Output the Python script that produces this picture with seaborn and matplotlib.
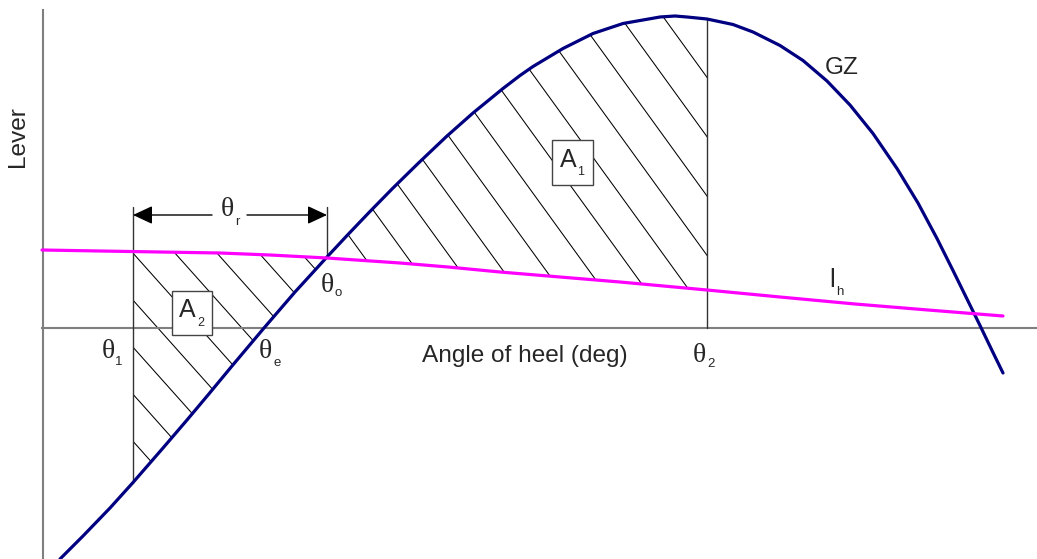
import numpy as np
import pandas as pd
import matplotlib
matplotlib.use("Agg")
import matplotlib.pyplot as plt
from matplotlib.patches import Polygon, Rectangle
import seaborn as sns

# ---------------- data (schematic units: x = heel angle, y = lever) ----------------
# GZ curve (righting lever)
gz_angle = [60, 83, 110, 133, 163, 187, 208, 232, 264, 295, 327, 348, 369, 393,
            418, 447, 473, 503, 520, 533, 563, 593, 623, 660, 675, 687, 707, 733, 753,
            780, 803, 827, 850, 873, 897, 918, 937, 953, 967, 980, 993, 1003]
gz_lever = [-231, -208, -180, -154.5, -120, -92, -67, -38, 0, 36, 71, 93.5, 115.5, 140,
            164.5, 192, 215, 239.5, 252.5, 261.5, 279.5, 294.5, 304.5, 311, 312, 311, 309,
            303.5, 296, 282.5, 267.5, 247, 223, 194.5, 159.5, 125, 89.5, 57.5, 29, 2.5,
            -24.5, -45]
# heeling lever l_h
lh_angle = [42, 100, 160, 220, 270, 327, 400, 448, 500, 560, 620, 707, 780, 855, 928, 1003]
lh_lever = [78, 77, 76, 75, 73, 70, 65, 61, 56, 51, 46, 38, 31, 24, 18, 12]

theta_1, theta_o, theta_2 = 133, 327, 707

# ---------------- figure ----------------
sns.set_style("white")
plt.rcParams["font.family"] = ["Liberation Sans", "DejaVu Sans"]

fig = plt.figure(figsize=(10.37, 5.59), dpi=100)
ax = fig.add_axes([0, 0, 1, 1])
ax.set_xlim(0, 1037)
ax.set_ylim(-231, 328)

NAVY = "#000080"
MAG = "#ff00ff"
GREY = "#7f7f7f"

# axes as spines
for s in ["top", "right"]:
    ax.spines[s].set_visible(False)
ax.spines["left"].set_position(("data", 43))
ax.spines["bottom"].set_position(("data", 0))
ax.spines["left"].set_bounds(-231, 318)
ax.spines["bottom"].set_bounds(42, 1037)
for s in ["left", "bottom"]:
    ax.spines[s].set_color(GREY)
    ax.spines[s].set_linewidth(1.5)
ax.set_xticks([])
ax.set_yticks([])

gz_a = np.array(gz_angle, float)
gz_l = np.array(gz_lever, float)
lh_a = np.array(lh_angle, float)
lh_l = np.array(lh_lever, float)

def gz_at(x):
    return np.interp(x, gz_a, gz_l)

def lh_at(x):
    return np.interp(x, lh_a, lh_l)

# ---------------- hatched regions ----------------
def region(x0, x1, top, bottom):
    xs = np.linspace(x0, x1, 200)
    pts = np.vstack([np.column_stack([xs, top(xs)]),
                     np.column_stack([xs[::-1], bottom(xs[::-1])])])
    p = Polygon(pts, closed=True, facecolor="none", edgecolor="none")
    ax.add_patch(p)
    return p

clipA1 = region(theta_o, theta_2, gz_at, lh_at)
clipA2 = region(theta_1, theta_o, lh_at, gz_at)

def hatch(clip, x_refs, y_ref, slope):
    xs = np.array([-400, 1400], float)
    for x0 in x_refs:
        ys = y_ref - slope * (xs - x0)
        ln, = ax.plot(xs, ys, color="black", lw=0.75, zorder=2)
        ln.set_clip_path(clip)

hatch(clipA1, [370 + 43 * k for k in range(-1, 13)], 63, 1.38)
hatch(clipA2, [300 - 42 * k for k in range(0, 10)], 76, 1.12)

# ---------------- curves ----------------
sns.lineplot(x=gz_a, y=gz_l, ax=ax, color=NAVY, linewidth=2.3, sort=False,
             estimator=None, zorder=4, solid_joinstyle="round")
sns.lineplot(x=lh_a, y=lh_l, ax=ax, color=MAG, linewidth=2.3, sort=False,
             estimator=None, zorder=4, solid_joinstyle="round")

# ---------------- vertical guide lines ----------------
arrow_y = 328 - 215
top_ext = 328 - 207
ax.plot([theta_1, theta_1], [top_ext, gz_at(theta_1)], color="#333333", lw=1.0, zorder=3)
ax.plot([theta_o, theta_o], [top_ext, lh_at(theta_o)], color="#333333", lw=1.0, zorder=3)
ax.plot([theta_2, theta_2], [0, gz_at(theta_2)], color="#333333", lw=1.0, zorder=3)

# theta_r arrows
astyle = dict(arrowstyle="-|>,head_length=0.6,head_width=0.28", mutation_scale=20,
              color="black", lw=1.0, shrinkA=0, shrinkB=0)
ax.annotate("", xy=(theta_1, arrow_y), xytext=(212, arrow_y), arrowprops=astyle)
ax.annotate("", xy=(theta_o, arrow_y), xytext=(247, arrow_y), arrowprops=astyle)

# ---------------- labels ----------------
def P(y):
    return 328 - y

TH = ["Liberation Serif", "DejaVu Serif"]

def theta_label(xc, yc, sub, xs, ys):
    ax.text(xc, P(yc), "θ", family=TH, fontsize=20, ha="center", va="center", zorder=6)
    ax.text(xs, P(ys), sub, fontsize=9.5, ha="center", va="center", zorder=6)

theta_label(108, 351, "1", 119, 362)
theta_label(265, 351, "e", 277, 363)
theta_label(327, 286, "o", 338, 293)
theta_label(699, 355, "2", 711, 364)
theta_label(227, 210, "r", 237, 222)

ax.text(525, P(356), "Angle of heel (deg)", fontsize=17.6, ha="center", va="center", zorder=6)
ax.text(18, P(137), "Lever", fontsize=17.6, ha="center", va="center", rotation=90, zorder=6)
ax.text(842, P(68), "GZ", fontsize=17.6, ha="center", va="center", zorder=6)
ax.text(832, P(280), "l", fontsize=18.5, ha="center", va="center", zorder=6)
ax.text(840, P(292), "h", fontsize=9.5, ha="center", va="center", zorder=6)

def boxed(x0, y0, x1, y1, ac, sc):
    ax.add_patch(Rectangle((x0, P(y1)), x1 - x0, y1 - y0, facecolor="white",
                           edgecolor="#444444", lw=1.0, zorder=5))
    ax.text(ac[0], P(ac[1]), "A", fontsize=18, ha="center", va="center", zorder=6)
    ax.text(sc[0], P(sc[1]), sc[2], fontsize=9, ha="center", va="center", zorder=6)

boxed(552, 140, 593, 185, (568, 160), (581, 172, "1"))
boxed(172, 291, 212, 335, (187, 310), (201, 323, "2"))

fig.savefig("out.png", dpi=100, facecolor="white")
